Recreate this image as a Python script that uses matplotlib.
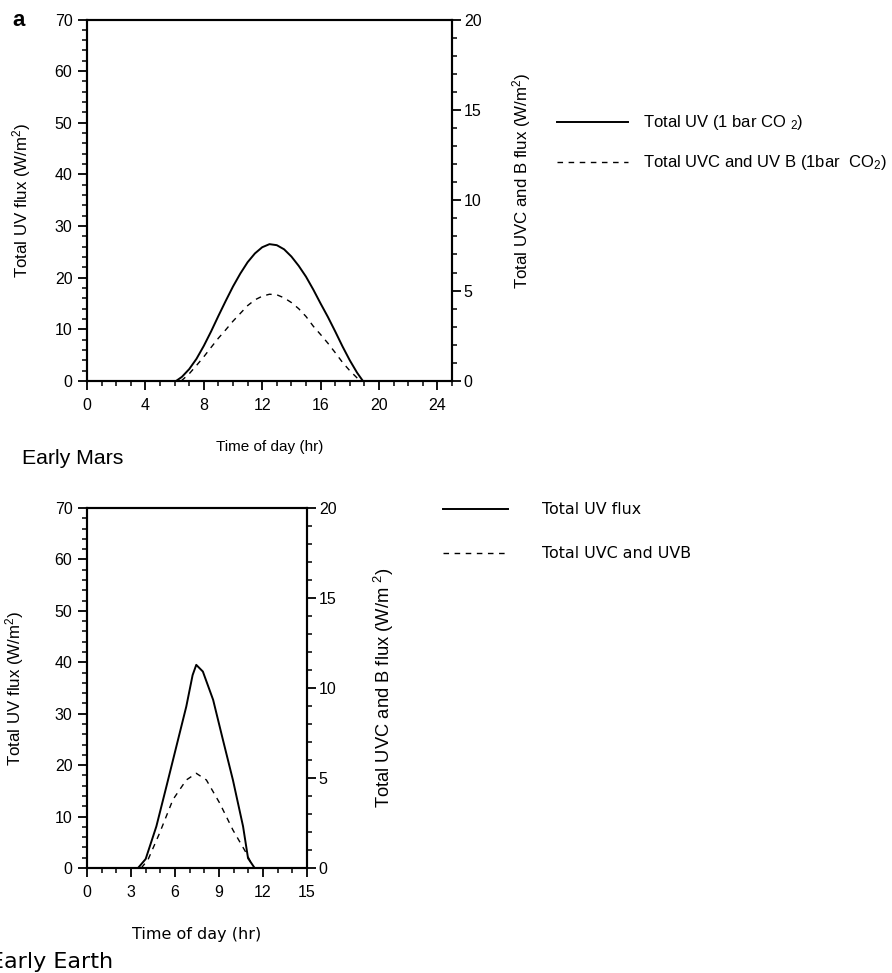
import numpy as np
import matplotlib
matplotlib.use("Agg")
import matplotlib.pyplot as plt
from matplotlib.lines import Line2D
from matplotlib.ticker import MultipleLocator

plt.rcParams['font.family'] = ['Liberation Sans', 'DejaVu Sans']
plt.rcParams['mathtext.default'] = 'regular'

# Early Mars (panel a), time in hours; UV on left axis (W/m2)
mars_t_uv = [0, 6.1, 6.5, 7, 7.5, 8, 8.5, 9, 9.5, 10, 10.5, 11, 11.5, 12, 12.5,
             13, 13.5, 14, 14.5, 15, 15.5, 16, 16.5, 17, 17.5, 18, 18.5, 18.9, 25]
mars_uv = [0, 0, 0.8, 2.3, 4.3, 6.8, 9.6, 12.6, 15.5, 18.3, 20.8, 23.0, 24.7, 25.9, 26.5,
           26.3, 25.5, 24.1, 22.3, 20.2, 17.7, 15.0, 12.4, 9.6, 6.7, 4.0, 1.6, 0, 0]
# UVC + UVB on right axis (W/m2)
mars_t_uvcb = [6.45, 7, 7.5, 8, 8.5, 9, 9.5, 10, 10.5, 11, 11.5, 12, 12.5,
               13, 13.5, 14, 14.5, 15, 15.5, 16, 16.5, 17, 17.5, 18, 18.5, 18.75]
mars_uvcb = [0, 0.40, 0.86, 1.34, 1.86, 2.37, 2.83, 3.31, 3.74, 4.17, 4.49, 4.69, 4.80,
             4.77, 4.60, 4.34, 4.0, 3.57, 3.03, 2.57, 2.09, 1.57, 1.03, 0.57, 0.17, 0]

# Early Earth
earth_t_uv = [0, 3.48, 4.0, 4.73, 5.41, 6.09, 6.77, 7.2, 7.45, 7.9, 8.6, 9.27, 9.95, 10.64, 10.98, 11.43, 15]
earth_uv = [0, 0, 1.75, 8.1, 15.8, 23.6, 31.4, 37.5, 39.5, 38.2, 32.7, 24.9, 17.1, 8.1, 1.9, 0, 0]
earth_t_uvcb = [3.7, 4.16, 4.95, 5.86, 6.77, 7.45, 8.14, 9.05, 9.95, 10.86, 11.3]
earth_uvcb = [0, 0.46, 1.94, 3.8, 4.89, 5.26, 4.89, 3.6, 2.11, 0.83, 0.09]

W, H = 892, 973
fig = plt.figure(figsize=(W / 100, H / 100), dpi=100)


def px(x0, y0, x1, y1):
    return [x0 / W, 1 - y1 / H, (x1 - x0) / W, (y1 - y0) / H]


def style(ax, right=False):
    for s in ax.spines.values():
        s.set_linewidth(1.5)
    ax.tick_params(which='major', direction='out', length=6.5, width=1.3, labelsize=11.5)
    ax.tick_params(which='minor', direction='out', length=3.5, width=1.1)
    if right:
        ax.tick_params(axis='y', which='major', pad=2)
    else:
        ax.tick_params(axis='y', which='major', pad=4)
        ax.tick_params(axis='x', which='major', pad=6)


def panel(rect, xmax, xmaj, t_uv, uv, t_b, b, xlab_font, xlab_size):
    ax = fig.add_axes(rect)
    ax.plot(t_uv, uv, color='black', lw=1.4)
    ax.set_xlim(0, xmax)
    ax.set_ylim(0, 70)
    ax.xaxis.set_major_locator(MultipleLocator(xmaj))
    ax.xaxis.set_minor_locator(MultipleLocator(1))
    ax.yaxis.set_major_locator(MultipleLocator(10))
    ax.yaxis.set_minor_locator(MultipleLocator(2))
    ax.tick_params(top=False, which='both')
    style(ax)
    ax2 = ax.twinx()
    ax2.plot(t_b, b, color='black', lw=1.0, ls=(0, (4, 4)))
    ax2.set_ylim(0, 20)
    ax2.yaxis.set_major_locator(MultipleLocator(5))
    ax2.yaxis.set_minor_locator(MultipleLocator(1))
    style(ax2, right=True)
    ax.set_xlabel('Time of day (hr)', fontsize=xlab_size, family=xlab_font)
    return ax, ax2


# panel a: Early Mars
ax, ax2 = panel(px(87, 19.5, 452, 381), 25, 4, mars_t_uv, mars_uv,
                mars_t_uvcb, mars_uvcb, ['Liberation Sans'], 11)
ax.set_ylabel('Total UV flux (W/m$^2$)', fontsize=12.2)
ax.yaxis.set_label_coords(-0.148, 0.5)
ax2.set_ylabel('Total UVC and B flux (W/m$^2$)', fontsize=12.2)
ax2.yaxis.set_label_coords(1.159, 0.555)
ax.xaxis.set_label_coords(0.5, -0.163)

# Early Earth
bx, bx2 = panel(px(87, 508, 307, 868), 15, 3, earth_t_uv, earth_uv,
                earth_t_uvcb, earth_uvcb, ['DejaVu Sans'], 11.5)
bx.set_ylabel('Total UV flux (W/m$^2$)', fontsize=12.2)
bx.yaxis.set_label_coords(-0.277, 0.5)
bx2.set_ylabel('Total UVC and B flux (W/m $^2$)', fontsize=13.2)
bx2.yaxis.set_label_coords(1.295, 0.5)
bx.xaxis.set_label_coords(0.5, -0.164)


# legends drawn as key lines in figure pixels
def key(x0, x1, y, ls, text, tx, font, size):
    fig.add_artist(Line2D([x0 / W, x1 / W], [1 - y / H, 1 - y / H],
                          transform=fig.transFigure, color='black',
                          lw=1.4 if ls == '-' else 1.0, ls=ls))
    fig.text(tx / W, 1 - y / H, text, ha='left', va='center',
             fontsize=size, family=font)


key(557, 628, 122, '-', 'Total UV (1 bar CO $_2$)', 643, ['Liberation Sans'], 12)
key(557, 628, 162, (0, (4, 4)), 'Total UVC and UV B (1bar  CO$_2$)', 643, ['Liberation Sans'], 12)
key(443, 508, 509, '-', 'Total UV flux', 542, ['DejaVu Sans'], 11.4)
key(443, 508, 553, (0, (4, 4)), 'Total UVC and UVB', 542, ['DejaVu Sans'], 11.4)

fig.text(12 / W, 1 - 21 / H, 'a', fontsize=16, fontweight='bold', ha='left', va='center')
fig.text(22 / W, 1 - 459 / H, 'Early Mars', fontsize=15.3, ha='left', va='center')
fig.text(-10 / W, 1 - 962 / H, 'Early Earth', fontsize=16, ha='left', va='center',
         family=['DejaVu Sans'])

fig.savefig('out.png', dpi=100)
